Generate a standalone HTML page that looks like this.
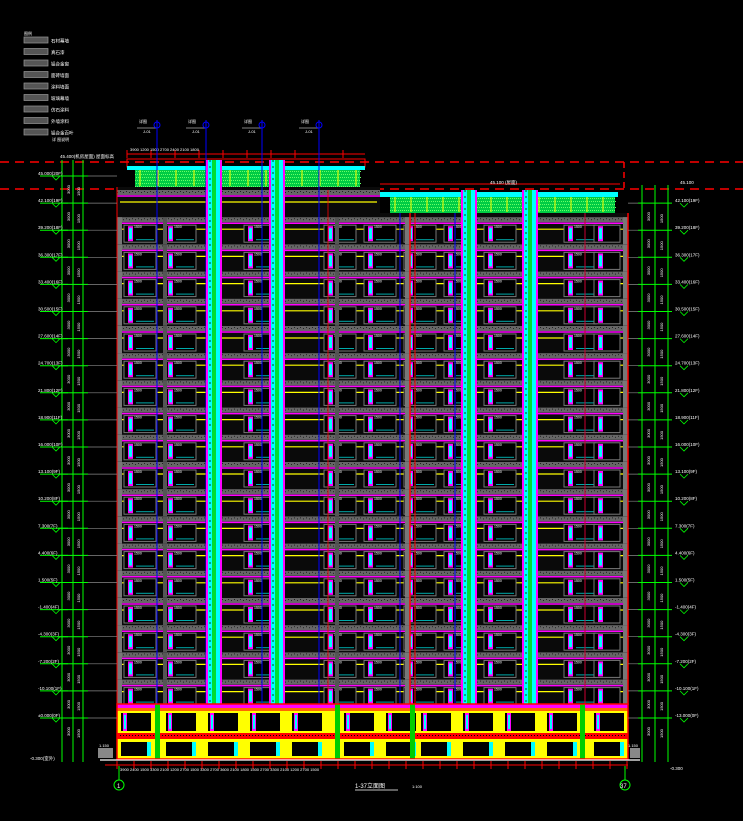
<!DOCTYPE html>
<html><head><meta charset="utf-8"><style>
html,body{margin:0;padding:0;background:#000;width:743px;height:821px;overflow:hidden}
svg{display:block}
text{font-family:"Liberation Sans","Noto Sans CJK SC",sans-serif;fill:#fff}
</style></head><body>
<svg id="s" width="743" height="821" viewBox="0 0 743 821" xmlns="http://www.w3.org/2000/svg">
<rect width="743" height="821" fill="#000"/>
</svg>
<script>
const s=document.getElementById('s');const NS='http://www.w3.org/2000/svg';
function el(t,a,txt){const e=document.createElementNS(NS,t);for(const k in a)e.setAttribute(k,a[k]);if(txt!==undefined)e.textContent=txt;s.appendChild(e);return e;}
function R(x,y,w,h,f,o){const a={x,y,width:w,height:h,fill:f};if(o)Object.assign(a,o);return el('rect',a);}
function L(x1,y1,x2,y2,c,w,o){const a={x1,y1,x2,y2,stroke:c,'stroke-width':w||1};if(o)Object.assign(a,o);return el('line',a);}
function T(x,y,t,sz,o){const a={x,y,'font-size':sz||5};if(o)Object.assign(a,o);return el('text',a,t);}
T(24,35,'图例',4);
const leg=['石材幕墙','真石漆','铝合金窗','面砖墙面','涂料墙面','玻璃幕墙','仿石涂料','外墙涂料','铝合金百叶'];
leg.forEach((n,i)=>{const y=37+i*11.5;R(24,y,24,6,'#555',{stroke:'#999','stroke-width':0.7});T(51,y+5.5,n,4.5);});
T(52,141,'详 图说明',4);
L(0,162,743,162,'#f00',1.5,{'stroke-dasharray':'9,6'});
L(0,189,743,189,'#f00',1.5,{'stroke-dasharray':'9,6'});
L(624,162,624,189,'#f00',1.5,{'stroke-dasharray':'6,4'});
[157,206,262,319].forEach(x=>{L(x-20,128,x,128,'#fff',0.6);el('circle',{cx:x,cy:125,r:3,fill:'none',stroke:'#00f'});T(x-18,123,'详图',4);T(x-14,133,'J-01',4)});
L(127,154,365,154,'#f00',1);for(let x=127;x<=365;x+=24)L(x,150,x,158,'#f00',1);
T(130,151,'3900 1200 1500 2700 2400 2100 1800',4);
T(60,158,'45.400(机房屋面) 屋面标高',4.5);
R(127,159,238,8,'none',{stroke:'#f00','stroke-width':1});
R(127,166,238,4,'#0ff');R(135,170,225,17,'#0c4');
for(let x=135;x<360;x+=2)for(let y=171;y<187;y+=3)R(x+(y%2),y,1,1,'#6f6');
for(let x=140;x<360;x+=18)L(x,170,x,186,'#ff0',1);
L(380,184,620,184,'#f00',1);T(490,184,'45.100 (屋面)',4.5);
R(378,192,240,5,'#0ff');R(390,197,225,16,'#0c4');
for(let x=390;x<615;x+=2)for(let y=198;y<213;y+=3)R(x+(y%2),y,1,1,'#6f6');
for(let x=395;x<615;x+=16)L(x,197,x,212,'#ff0',1);
R(117,187,263,518,'#0a0a0a');R(380,213,248,492,'#0a0a0a');
for(let i=0;i<19;i++){
 const y=190+i*27.2;
 const segs=(y<213)?[[117,380]]:[[117,628]];
 segs.forEach(([a,b])=>{R(a,y,b-a,5,'#666');for(let x=a;x<b;x+=3)R(x,y+1+(x%2),1,1,'#222');L(a,y+6,b,y+6,'#f0f',1.5);L(a+3,y+12,b-3,y+12,'#ff0',1.2);});
 if(i==0)continue;
 if(y>=705)continue;
 for(let x=124;x<590;x+=40){
  if((x>196&&x<224)||(x>258&&x<288)||(x>452&&x<478)||(x>512&&x<540))continue;
  R(x,y+8,32,17,'#000',{stroke:'#777','stroke-width':1});
  R(x+4,y+9,5,15,'#f0f');R(x+5,y+11,3,11,'#0ff');R(x+12,y+22,18,1,'#0aa');
  T(x+10,y+11,'1500',3.5);
 }
 R(594,y+8,26,17,'#000',{stroke:'#777','stroke-width':1});R(598,y+9,5,15,'#f0f');R(599,y+11,3,11,'#0ff');
 R(117,y,5,27,'#777');R(623,y,5,27,'#777');R(163,y,4,27,'#555');R(335,y,4,27,'#555');R(405,y,5,27,'#777');
}
[157,206,262,319].forEach(x=>L(x,120,x,704,'#00f',1));
[400,455,585].forEach(x=>L(x,213,x,704,'#00f',1));
[208,271,463,524].forEach(x=>{const top=x<300?160:190;const h=705-top;R(x-2,top,16,h,'#f0f');R(x,top,12,h,'#0ff');R(x+4,top,4,h,'#0d3');
 for(let y=top;y<705;y+=6)R(x+1,y,2,2,'#0a8');});
L(410,213,410,705,'#f00',1.5);L(415,213,415,705,'#f00',1);
L(328,190,328,705,'#f00',0.8);L(585,213,585,705,'#f00',0.8);
L(117,187,117,705,'#f00',1);L(628,213,628,705,'#f00',1.5);
R(117,704,511,55,'#ff0');R(117,704,511,4,'#f0f');R(117,708,511,3,'#f60');
R(117,733,511,6,'#f00');
for(let x=120;x<626;x+=3)R(x,735,1,1,'#000');
[[117,150],[162,330],[340,408],[417,580],[590,628]].forEach(([a,b])=>{
 for(let x=a+4;x<b-20;x+=42){R(x,713,30,18,'#000');R(x,742,30,14,'#000');R(x+2,713,4,18,'#f0f');R(x+3,715,2,14,'#0ff');R(x+26,742,4,14,'#0ff');}
});
[155,335,410,580].forEach(x=>{R(x,704,5,56,'#0c0');});
R(117,704,511,55,'none',{stroke:'#f00','stroke-width':1.5});
L(100,760,640,760,'#fff',1.2);L(105,765,628,765,'#f00',1);
for(let x=117;x<628;x+=17)L(x,761,x,769,'#f00',1);
T(120,771,'3900  2400  1500  3300  2100  1200  2700  1500  3300  2700  3600  2100  1800  1500  2700  3300  2100  1200  2700  1500',4);
R(98,748,15,10,'#888');T(99,747,'1.150',4);R(630,748,10,10,'#888');T(628,747,'1.150',4);
el('circle',{cx:119,cy:785,r:5,fill:'none',stroke:'#0f0'});T(117,788,'1',6,{fill:'#0f0'});L(119,766,119,780,'#0f0',1);
el('circle',{cx:625,cy:785,r:5,fill:'none',stroke:'#0f0'});T(620,788,'37',6,{fill:'#0f0'});L(625,766,625,780,'#0f0',1);
T(355,788,'1-37立面图',6);L(355,790,398,790,'#fff',0.8);T(412,788,'1:100',4);
[62,73,83].forEach(x=>L(x,160,x,762,'#0f0',1));
[642,655,668].forEach(x=>L(x,185,x,762,'#0f0',1));
for(let i=0;i<21;i++){const y=176+i*27.1;
 L(40,y,68,y,'#0f0',1);L(58,y,117,y,'#888',0.7);
 T(38,y-1,(i<20?((45-i*2.9).toFixed(3)):'±0.000')+'('+(20-i)+'F)',4.5);
 el('polyline',{points:`52,${y} 56,${y+4} 60,${y}`,fill:'none',stroke:'#0f0','stroke-width':0.8});
 L(58,y,88,y,'#0f0',1);
 T(70,y+18,'3000',4,{transform:`rotate(-90 70 ${y+18})`});T(80,y+20,'1500',4,{transform:`rotate(-90 80 ${y+20})`});
 if(i>0){L(628,y,645,y,'#888',0.7);L(638,y,672,y,'#0f0',1);T(675,y-1,(45-i*2.9).toFixed(3)+'('+(20-i)+'F)',4.5);
 el('polyline',{points:`680,${y} 684,${y+4} 688,${y}`,fill:'none',stroke:'#0f0','stroke-width':0.8});
 T(650,y+18,'3000',4,{transform:`rotate(-90 650 ${y+18})`});T(663,y+20,'1500',4,{transform:`rotate(-90 663 ${y+20})`});}
}
T(30,760,'-0.300(室外)',4.5);T(670,770,'-0.300',4.5);
T(680,184,'45.100',4.5);
</script>
</body></html>
